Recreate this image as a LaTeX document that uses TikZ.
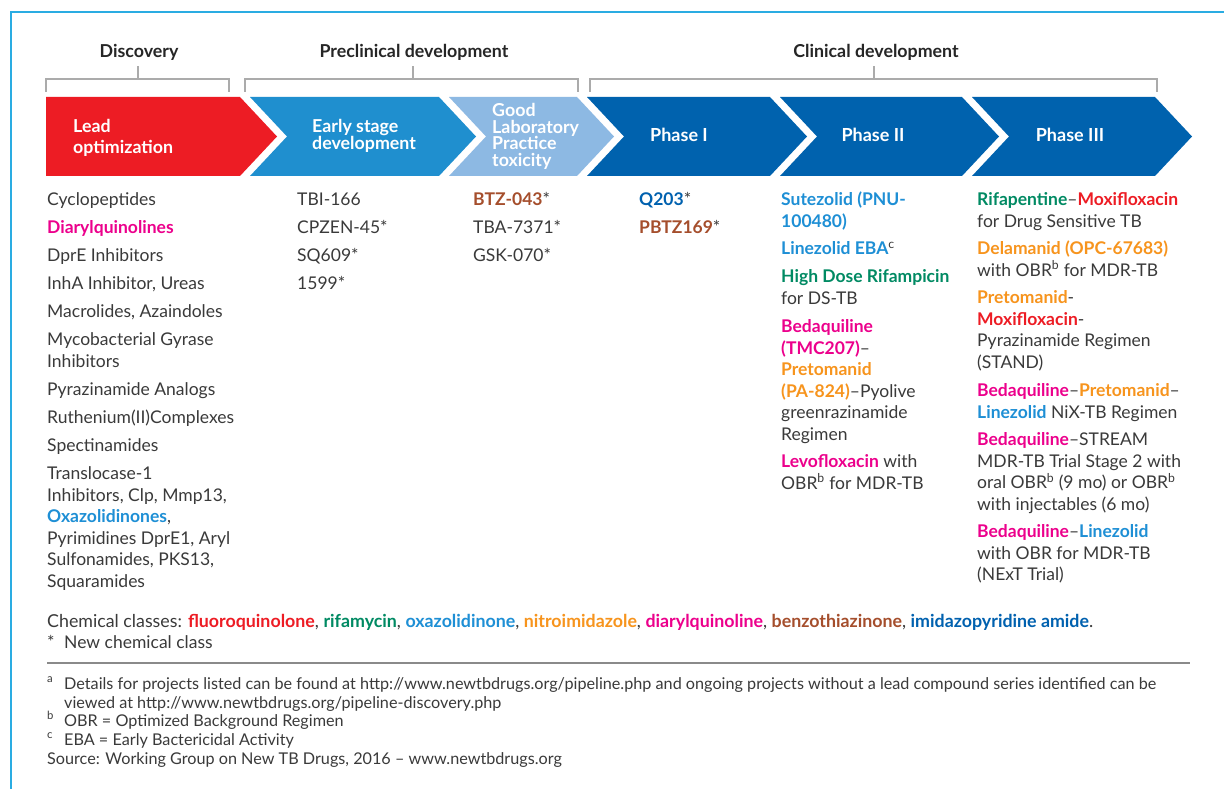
\documentclass[tikz,border=0pt]{standalone}
\usepackage{fontspec}
\setmainfont{Lato}
\definecolor{frameblue}{HTML}{2AACE2}
\definecolor{leadred}{HTML}{ED1C24}
\definecolor{earlyblue}{HTML}{1F8FCF}
\definecolor{glpblue}{HTML}{8DB9E3}
\definecolor{phaseblue}{HTML}{0062AE}
\definecolor{txt}{HTML}{3A3A3A}
\definecolor{brk}{HTML}{ABABAB}
\definecolor{rulegray}{HTML}{8A8A8A}
\definecolor{cRed}{HTML}{ED1C24}
\definecolor{cGreen}{HTML}{008A63}
\definecolor{cLblue}{HTML}{1E8FD5}
\definecolor{cOrange}{HTML}{F7941D}
\definecolor{cMag}{HTML}{EC008C}
\definecolor{cBrown}{HTML}{A54E2C}
\definecolor{cDblue}{HTML}{0061AF}
\newcommand\bodyfont{\fontsize{17.5}{21.5}\selectfont}
\newcommand\notefont{\fontsize{16.2}{19}\selectfont}
\newcommand\bc[2]{\textbf{\color{#1}#2}}
\newcommand\lns[1]{\parbox[t]{260pt}{\raggedright #1}}
\begin{document}
\begin{tikzpicture}[x=1pt,y=-1pt,
  itm/.style={anchor=base west, inner sep=0pt, text=txt, font=\bodyfont},
  hdr/.style={anchor=base, inner sep=0pt, text=black!85, font=\bfseries\fontsize{17.8}{20}\selectfont},
  atxt/.style={anchor=base west, inner sep=0pt, text=white, font=\bfseries\fontsize{17.8}{16.5}\selectfont},
  ptxt/.style={anchor=base, inner sep=0pt, text=white, font=\bfseries\fontsize{18}{16.5}\selectfont},
  brkline/.style={draw=brk, line width=2pt},
  note/.style={anchor=base west, inner sep=0pt, text=txt, font=\notefont}]
\useasboundingbox (0,0) rectangle (1224,789);
\fill[white] (0,0) rectangle (1224,789);
% frame
\draw[frameblue, line width=2.5pt] (11,789) -- (11,12) -- (1224,12);
% headers
\node[hdr] (disc) at (139,58) {Discovery};
\node[hdr] (precl) at (414,58) {Preclinical development};
\node[hdr] (clin) at (876,58) {Clinical development};
% brackets
\draw[brkline] (46,92) -- (46,79) -- (229,79) -- (229,92);
\draw[brkline] (137.5,79) -- (137.5,66);
\draw[brkline] (245,92) -- (245,79) -- (578,79) -- (578,92);
\draw[brkline] (413,79) -- (413,66);
\draw[brkline] (590,92) -- (590,79) -- (1157,79) -- (1157,92);
\draw[brkline] (874,79) -- (874,66);
% arrows
\fill[leadred] (46,97) -- (240,97) -- (277,136.5) -- (240,176) -- (46,176) -- cycle;
\fill[earlyblue] (250,97) -- (439,97) -- (476,136.5) -- (439,176) -- (250,176) -- (287,136.5) -- cycle;
\fill[glpblue] (449,97) -- (577,97) -- (614,136.5) -- (577,176) -- (449,176) -- (486,136.5) -- cycle;
\fill[phaseblue] (587,97) -- (770,97) -- (807,136.5) -- (770,176) -- (587,176) -- (624,136.5) -- cycle;
\fill[phaseblue] (780,97) -- (962,97) -- (999,136.5) -- (962,176) -- (780,176) -- (817,136.5) -- cycle;
\fill[phaseblue] (972,97) -- (1155,97) -- (1192,136.5) -- (1155,176) -- (972,176) -- (1009,136.5) -- cycle;
\node[atxt, font=\bfseries\fontsize{17.8}{21}\selectfont] (lead) at (73,133) {\parbox[t]{150pt}{Lead\\optimization}};
\node[atxt] (early) at (312,133) {\parbox[t]{150pt}{Early stage\\development}};
\node[atxt] (glp) at (492,117) {\parbox[t]{120pt}{Good\\Laboratory\\Practice\\toxicity}};
\node[ptxt] (ph1) at (679,142) {Phase I};
\node[ptxt] (ph2) at (873,142) {Phase II};
\node[ptxt] (ph3) at (1070,142) {Phase III};
% column 1
\node[itm] (a1) at (47,205.5) {Cyclopeptides};
\node[itm] (a2) at (47,233.5) {\bc{cMag}{Diarylquinolines}};
\node[itm] (a3) at (47,261.5) {DprE Inhibitors};
\node[itm] (a4) at (47,289.5) {InhA Inhibitor, Ureas};
\node[itm] (a5) at (47,317.5) {Macrolides, Azaindoles};
\node[itm] (a6) at (47,345.5) {\lns{Mycobacterial Gyrase\\Inhibitors}};
\node[itm] (a7) at (47,395.5) {Pyrazinamide Analogs};
\node[itm] (a8) at (47,423.5) {Ruthenium(II)Complexes};
\node[itm] (a9) at (47,451.5) {Spectinamides};
\node[itm] (a10) at (47,479.5) {\lns{Translocase-1\\Inhibitors, Clp, Mmp13,\\\bc{cLblue}{Oxazolidinones},\\Pyrimidines DprE1, Aryl\\Sulfonamides, PKS13,\\Squaramides}};
% column 2
\node[itm] (b1) at (297,205.5) {TBI-166};
\node[itm] (b2) at (297,233.5) {CPZEN-45*};
\node[itm] (b3) at (297,261.5) {SQ609*};
\node[itm] (b4) at (297,289.5) {1599*};
% column 3
\node[itm] (c1) at (473,205.5) {\bc{cBrown}{BTZ-043}*};
\node[itm] (c2) at (473,233.5) {TBA-7371*};
\node[itm] (c3) at (473,261.5) {GSK-070*};
% column 4
\node[itm] (d1) at (639,205.5) {\bc{cDblue}{Q203}*};
\node[itm] (d2) at (639,233.5) {\bc{cBrown}{PBTZ169}*};
% column 5
\node[itm] (e1) at (781,205.5) {\lns{\bc{cLblue}{Sutezolid (PNU-}\\\bc{cLblue}{100480)}}};
\node[itm] (e2) at (781,254.5) {\bc{cLblue}{Linezolid EBA}\textsuperscript{c}};
\node[itm] (e3) at (781,282.5) {\lns{\bc{cGreen}{High Dose Rifampicin}\\for DS-TB}};
\node[itm] (e4) at (781,332.5) {\lns{\bc{cMag}{Bedaquiline}\\\bc{cMag}{(TMC207)}–\\\bc{cOrange}{Pretomanid}\\\bc{cOrange}{(PA-824)}–Pyolive\\greenrazinamide\\Regimen}};
\node[itm] (e5) at (781,467.5) {\lns{\bc{cMag}{Levofloxacin} with\\OBR\textsuperscript{b} for MDR-TB}};
% column 6
\node[itm] (f1) at (977,205.5) {\lns{\bc{cGreen}{Rifapentine}–\bc{cRed}{Moxifloxacin}\\for Drug Sensitive TB}};
\node[itm] (f2) at (977,254.5) {\lns{\bc{cOrange}{Delamanid (OPC-67683)}\\with OBR\textsuperscript{b} for MDR-TB}};
\node[itm] (f3) at (977,303.5) {\lns{\bc{cOrange}{Pretomanid}-\\\bc{cRed}{Moxifloxacin}-\\Pyrazinamide Regimen\\(STAND)}};
\node[itm] (f4) at (977,396.5) {\lns{\bc{cMag}{Bedaquiline}–\bc{cOrange}{Pretomanid}–\\\bc{cLblue}{Linezolid} NiX-TB Regimen}};
\node[itm] (f5) at (977,445.5) {\lns{\bc{cMag}{Bedaquiline}–STREAM\\MDR-TB Trial Stage 2 with\\oral OBR\textsuperscript{b} (9 mo) or OBR\textsuperscript{b}\\with injectables (6 mo)}};
\node[itm] (f6) at (977,537.5) {\lns{\bc{cMag}{Bedaquiline}–\bc{cLblue}{Linezolid}\\with OBR for MDR-TB\\(NExT Trial)}};
% footer
\node[itm, font=\fontsize{17.8}{21}\selectfont] (classes) at (47,627.5) {Chemical classes: \bc{cRed}{fluoroquinolone}, \bc{cGreen}{rifamycin}, \bc{cLblue}{oxazolidinone}, \bc{cOrange}{nitroimidazole}, \bc{cMag}{diarylquinoline}, \bc{cBrown}{benzothiazinone}, \bc{cDblue}{imidazopyridine amide}.};
\node[itm] (star) at (47,648.5) {*};
\node[itm] (newcls) at (64,648.5) {New chemical class};
\coordinate (rl) at (47,663);
\coordinate (rr) at (1190,663);
\draw[rulegray, line width=2pt] (rl) -- (rr);
\node[note] (na) at (47,689) {\textsuperscript{a}};
\node[note] (ta) at (64,689) {\parbox[t]{1140pt}{\raggedright Details for projects listed can be found at http://www.newtbdrugs.org/pipeline.php and ongoing projects without a lead compound series identified can be\\viewed at http://www.newtbdrugs.org/pipeline-discovery.php}};
\node[note] (nb) at (47,726) {\textsuperscript{b}};
\node[note] (tb) at (64,726) {OBR = Optimized Background Regimen};
\node[note] (nc) at (47,745) {\textsuperscript{c}};
\node[note] (tc) at (64,745) {EBA = Early Bactericidal Activity};
\node[note] (src) at (47,764) {Source: Working Group on New TB Drugs, 2016 – www.newtbdrugs.org};
\end{tikzpicture}
\end{document}
